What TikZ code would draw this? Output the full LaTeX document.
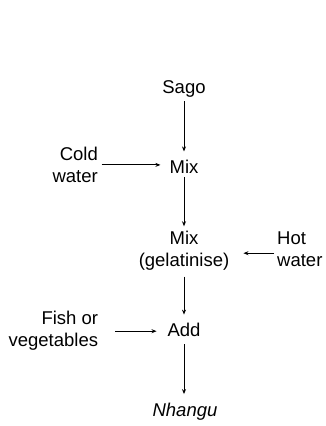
\documentclass[tikz,border=0pt]{standalone}
\usepackage{fontspec}
\setmainfont{Liberation Sans}
\usetikzlibrary{arrows.meta}
\begin{document}
\begin{tikzpicture}[x=1pt,y=-1pt,
  lbl/.style={inner sep=0pt,font=\fontsize{18.5}{22}\selectfont},
  arr/.style={line width=0.9pt,-{Stealth[length=5pt,width=4pt]}}]
\useasboundingbox[fill=white] (0,0) rectangle (326,426);
\node[lbl,anchor=base] (sago) at (184,93.3) {Sago};
\node[lbl,anchor=base] (mix1) at (184,173) {Mix};
\node[lbl,anchor=east,align=right] (cold) at (98,164.9) {Cold\\water};
\node[lbl,align=center] (gel) at (184,251.1) {Mix\\(gelatinise)};
\node[lbl,anchor=west,align=left] (hot) at (277,249.2) {Hot\\water};
\node[lbl,anchor=base] (add) at (184,336.7) {Add};
\node[lbl,anchor=east,align=right] (fish) at (98.3,331.2) {Fish or\\vegetables};
\node[lbl,anchor=base,font=\fontsize{18.5}{22}\selectfont\itshape] (nhangu) at (185,416.7) {Nhangu};
\draw[arr,shorten <=3.8pt,shorten >=8pt] (sago.south) -- (mix1.north);
\draw[arr,shorten <=3.7pt,shorten >=5pt] (mix1.south) -- (gel.north);
\draw[arr,shorten <=5.6pt,shorten >=8.5pt] (gel.south) -- (add.north);
\draw[arr,shorten <=7.3pt,shorten >=9pt] (add.south) -- (nhangu.north -| add.south);
\draw[arr,shorten <=3.7pt,shorten >=9pt] (cold.east) -- (cold.east -| mix1.west);
\draw[arr,shorten <=16.7pt,shorten >=10.8pt] (fish.east) -- (fish.east -| add.west);
\draw[arr,shorten <=3pt,shorten >=14pt] ([yshift=-4pt]hot.west) -- ([yshift=-4pt]hot.west -| gel.east);
\end{tikzpicture}
\end{document}
